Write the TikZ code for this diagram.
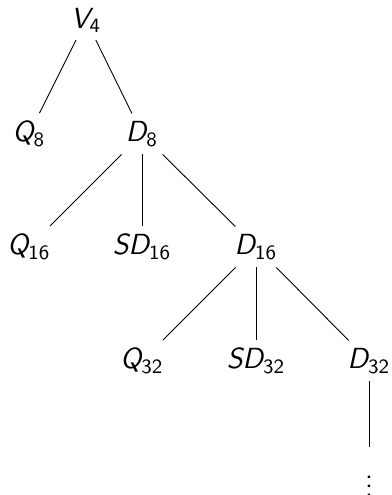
\documentclass[tikz,border=0pt]{standalone}
\usepackage{amsmath}
\newcommand\grp[2]{\ensuremath{\text{\sffamily\itshape #1}_{\text{\sffamily #2}}}}
\begin{document}
\begin{tikzpicture}[x=0.447pt,y=-0.447pt,
  every node/.style={font=\fontsize{13}{15}\selectfont\sffamily},
  edge/.style={draw=black, line width=0.4pt}]
\useasboundingbox (0,0) rectangle (392,495);
\node (v4) at (86,20) {\grp{V}{4}};
\node (q8) at (29,134) {\grp{Q}{8}};
\node (d8) at (142,134) {\grp{D}{8}};
\node (q16) at (29,247) {\grp{Q}{16}};
\node (sd16) at (142,247) {\grp{SD}{16}};
\node (d16) at (256,247) {\grp{D}{16}};
\node (q32) at (142,361) {\grp{Q}{32}};
\node (sd32) at (256,361) {\grp{SD}{32}};
\node (d32) at (369,361) {\grp{D}{32}};
\node[inner sep=1pt] (dots) at (369,480) {$\vdots$};
\draw[edge] (v4) -- (q8);
\draw[edge] (v4) -- (d8);
\draw[edge] (d8) -- (q16);
\draw[edge] (d8) -- (sd16);
\draw[edge] (d8) -- (d16);
\draw[edge] (d16) -- (q32);
\draw[edge] (d16) -- (sd32);
\draw[edge] (d16) -- (d32);
\draw[edge] (d32) -- ([yshift=6pt]dots.north);
\end{tikzpicture}
\end{document}
